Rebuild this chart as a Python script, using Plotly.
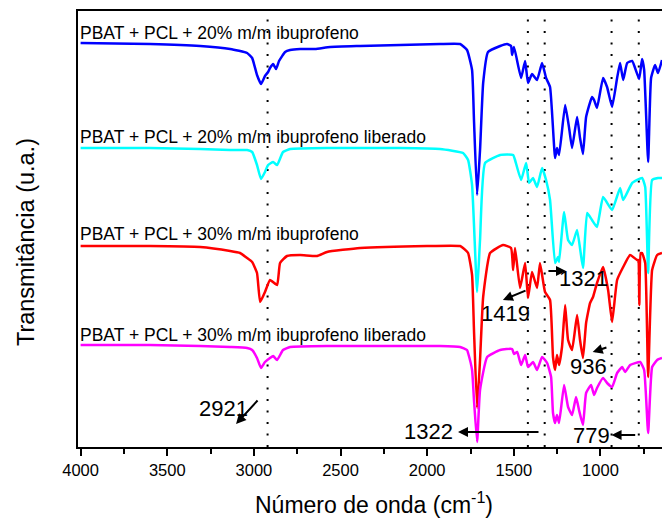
import plotly.graph_objects as go

# ---------------- data ----------------
wn_20 = [4000, 3599, 3310, 3137, 3039, 3010, 2982, 2959, 2936, 2918, 2907, 2889, 2872, 2855, 2820, 2791,
         2733, 2647, 2560, 2387, 2156, 1926, 1810, 1770, 1741, 1730, 1712, 1695, 1677, 1649, 1579, 1539,
         1516, 1510, 1499, 1458, 1435, 1418, 1395, 1366, 1337, 1314, 1291, 1262, 1251, 1239, 1204, 1181,
         1164, 1135, 1118, 1101, 1083, 1049, 1037, 1020, 985, 962, 933, 904, 887, 869, 846, 817, 777,
         760, 748, 725, 708, 685, 668, 645]
t_20 = [404, 403, 401, 398, 394, 389, 372, 363, 371, 375, 379, 383, 378, 386, 395, 397,
        398, 398, 400, 401, 402, 403, 403, 397, 377, 327, 252, 297, 364, 395, 401, 403,
        401, 392, 400, 369, 386, 364, 373, 367, 384, 369, 360, 289, 299, 292, 342, 319,
        299, 330, 309, 293, 330, 350, 347, 339, 369, 360, 340, 369, 384, 367, 384, 386, 368,
        388, 377, 285, 369, 382, 374, 387]

wn_20l = [4000, 3599, 3310, 3137, 3039, 3010, 2982, 2959, 2936, 2918, 2889, 2866, 2832, 2791, 2560, 2156,
          1926, 1793, 1764, 1741, 1712, 1695, 1666, 1579, 1504, 1493, 1458, 1429, 1412, 1389, 1366, 1337,
          1314, 1291, 1262, 1245, 1239, 1210, 1187, 1164, 1135, 1101, 1077, 1049, 1020, 985, 933, 887,
          869, 817, 760, 742, 725, 702, 668, 645]
t_20l = [299, 299, 298, 297, 297, 295, 282, 268, 275, 282, 285, 282, 295, 298, 299, 299,
         298, 294, 287, 262, 155, 207, 284, 292, 292, 287, 267, 284, 264, 269, 260, 279,
         267, 247, 184, 190, 185, 235, 207, 202, 217, 179, 234, 227, 220, 250, 237, 259,
         247, 264, 269, 260, 174, 267, 269, 269]

wn_30 = [4000, 3599, 3310, 3137, 3080, 3039, 3010, 2982, 2964, 2936, 2907, 2866, 2849, 2809, 2733, 2635,
         2578, 2387, 2001, 1810, 1793, 1764, 1741, 1730, 1712, 1695, 1677, 1637, 1562, 1516, 1504, 1493,
         1464, 1435, 1418, 1395, 1366, 1349, 1320, 1291, 1274, 1262, 1251, 1239, 1222, 1204, 1187, 1164,
         1135, 1118, 1101, 1083, 1060, 1043, 1020, 985, 956, 933, 904, 869, 829, 789, 782, 776, 768,
         760, 742, 725, 702, 673, 645]
t_30 = [201, 201, 200, 196, 194, 189, 185, 174, 145, 155, 167, 162, 184, 191, 192, 191,
        195, 199, 201, 201, 199, 194, 172, 117, 39, 87, 150, 194, 202, 199, 177, 199,
        159, 184, 149, 175, 159, 184, 155, 147, 90, 77, 92, 82, 100, 142, 107, 97,
        132, 107, 89, 124, 144, 150, 164, 180, 157, 125, 167, 180, 192, 187, 187, 142, 194,
        194, 184, 70, 177, 192, 194]

wn_30l = [4000, 3599, 3310, 3137, 3039, 3010, 2982, 2959, 2936, 2907, 2889, 2866, 2832, 2791, 2560, 2156,
          1926, 1810, 1770, 1764, 1741, 1730, 1712, 1695, 1654, 1579, 1510, 1499, 1481, 1458, 1435, 1418,
          1389, 1366, 1337, 1308, 1285, 1274, 1262, 1251, 1239, 1210, 1187, 1164, 1141, 1124, 1101, 1083,
          1054, 1037, 1020, 985, 962, 933, 904, 875, 858, 829, 771, 748, 725, 702, 673, 645]
t_30l = [102, 102, 101, 100, 99, 97, 89, 79, 85, 89, 91, 87, 97, 100, 101, 101,
         101, 100, 97, 94, 77, 47, 5, 57, 90, 97, 98, 93, 95, 82, 92, 80,
         85, 77, 90, 84, 70, 34, 24, 32, 24, 62, 40, 32, 50, 37, 22, 54,
         62, 52, 59, 69, 64, 60, 74, 80, 75, 82, 85, 77, 14, 80, 87, 89]

series_names = ["PBAT + PCL + 20% m/m ibuprofeno",
                "PBAT + PCL + 20% m/m ibuprofeno liberado",
                "PBAT + PCL + 30% m/m ibuprofeno",
                "PBAT + PCL + 30% m/m ibuprofeno liberado"]
series_colors = ["#0000FF", "#00FFFF", "#FF0000", "#FF00FF"]
label_y = [414, 310.5, 213, 112.5]

peak_lines = [2921, 1419, 1322, 936, 779]

# peak annotations: text, text position, arrow tail, arrow head (data coords)
peak_text = ["2921", "1419", "1321", "936", "779", "1322"]
peak_text_xy = [(3175, 39), (1548, 133.5), (1097, 169), (1068, 81), (1051, 11.5), (1992, 15.5)]
peak_tail_xy = [(2971, 48), (1424, 157), (1309, 176), (957, 100), (791, 12), (1349, 15)]
peak_head_xy = [(3103, 23), (1563, 147), (1199, 176), (1045, 95), (936, 12), (1822, 15)]

FONT = "Liberation Sans, Arial, sans-serif"

fig = go.Figure()
for wn, t, name, col in zip([wn_20, wn_20l, wn_30, wn_30l], [t_20, t_20l, t_30, t_30l],
                            series_names, series_colors):
    fig.add_trace(go.Scatter(x=wn, y=t, mode="lines", name=name,
                             line=dict(color=col, width=2.5, shape="spline", smoothing=0.4),
                             showlegend=False))

for p in peak_lines:
    fig.add_shape(type="line", xref="x", yref="paper", x0=p, x1=p, y0=0, y1=1,
                  line=dict(color="black", width=2, dash="2px,9.5px"), layer="below")

annotations = []
for name, ly in zip(series_names, label_y):
    annotations.append(dict(text=name, xref="paper", yref="y", x=0, y=ly, xanchor="left",
                            yanchor="middle", showarrow=False,
                            font=dict(family=FONT, size=17.5, color="black")))

for txt, (tx, ty), (ax, ay), (hx, hy) in zip(peak_text, peak_text_xy, peak_tail_xy, peak_head_xy):
    annotations.append(dict(text=txt, xref="x", yref="y", x=tx, y=ty, showarrow=False,
                            xanchor="center", yanchor="middle",
                            font=dict(family=FONT, size=22, color="black")))
    annotations.append(dict(text="", xref="x", yref="y", axref="x", ayref="y",
                            x=hx, y=hy, ax=ax, ay=ay, showarrow=True,
                            arrowhead=2, arrowsize=1, arrowwidth=2, arrowcolor="black",
                            standoff=0, startstandoff=0))

annotations.append(dict(text="Transmitância (u.a.)", xref="paper", yref="paper",
                        x=-0.089, y=0.47, textangle=-90, showarrow=False,
                        xanchor="center", yanchor="middle",
                        font=dict(family=FONT, size=23.5, color="black")))
annotations.append(dict(text="Número de onda (cm<sup>-1</sup>)", xref="paper", yref="paper",
                        x=0.507, y=-0.128, showarrow=False, xanchor="center", yanchor="middle",
                        font=dict(family=FONT, size=23, color="black")))

fig.update_layout(
    width=662, height=520,
    margin=dict(l=78, r=0, t=11, b=73),
    paper_bgcolor="white", plot_bgcolor="white",
    font=dict(family=FONT, color="black"),
    annotations=annotations,
    xaxis=dict(range=[4015, 645], tick0=0, dtick=500, ticks="outside", ticklen=7,
               tickwidth=1.5, tickcolor="black", showline=True, linewidth=2, linecolor="black",
               mirror=True, showgrid=False, zeroline=False,
               tickfont=dict(family=FONT, size=16.5, color="black"),
               minor=dict(ticks="outside", ticklen=5, dtick=250, tickwidth=1.5,
                          tickcolor="black", showgrid=False)),
    yaxis=dict(range=[0, 436], showticklabels=False, ticks="", showline=True, linewidth=2,
               linecolor="black", showgrid=False, zeroline=False),
)

fig.write_html("out.html")
